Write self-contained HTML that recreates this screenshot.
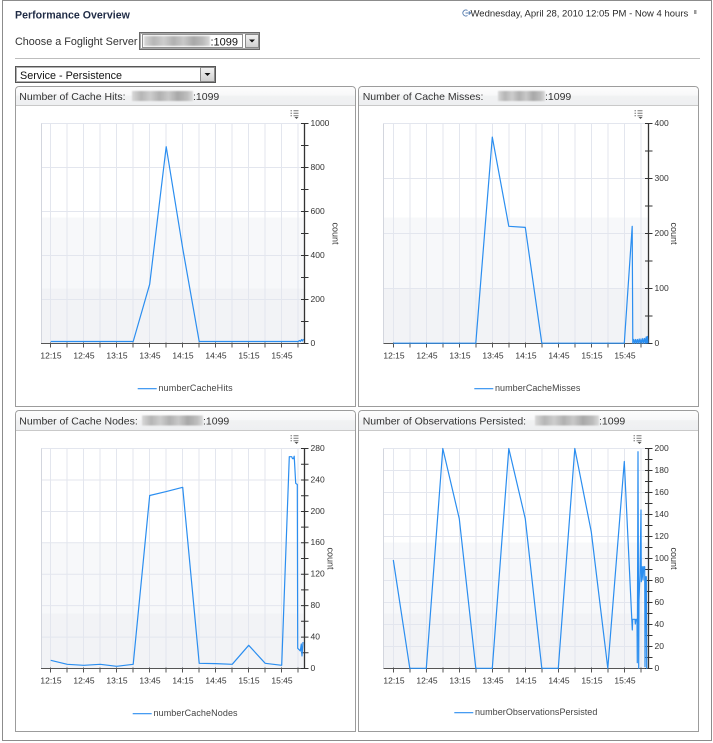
<!DOCTYPE html>
<html><head><meta charset="utf-8"><style>
html,body{margin:0;padding:0;background:#fff;}
#root{position:relative;width:713px;height:743px;overflow:hidden;background:#fff;font-family:"Liberation Sans",Arial,sans-serif;}
svg{position:absolute;left:0;top:0;}
</style></head><body><div id="root">
<svg width="713" height="743" viewBox="0 0 713 743" xmlns="http://www.w3.org/2000/svg" font-family="Liberation Sans, Arial, sans-serif">
<defs>
<linearGradient id="hdr" x1="0" y1="0" x2="0" y2="1">
<stop offset="0" stop-color="#fdfdfd"/><stop offset="0.45" stop-color="#f8f8f9"/><stop offset="0.5" stop-color="#f1f2f3"/><stop offset="1" stop-color="#eeeff1"/>
</linearGradient>
<linearGradient id="btn" x1="0" y1="0" x2="0" y2="1">
<stop offset="0" stop-color="#f2f2f2"/><stop offset="1" stop-color="#cfcfcf"/>
</linearGradient>
<linearGradient id="blur" x1="0" y1="0" x2="1" y2="0">
<stop offset="0" stop-color="#d8d8d8"/><stop offset="0.15" stop-color="#b5b5b5"/><stop offset="0.3" stop-color="#cdcdcd"/><stop offset="0.45" stop-color="#b0b0b0"/><stop offset="0.6" stop-color="#c8c8c8"/><stop offset="0.75" stop-color="#a8a8a8"/><stop offset="0.9" stop-color="#bcbcbc"/><stop offset="1" stop-color="#dadada"/>
</linearGradient>
<filter id="bf" x="-10%" y="-50%" width="120%" height="200%"><feGaussianBlur stdDeviation="0.9"/></filter>
</defs>

<!-- page border -->
<rect x="2.5" y="0.5" width="709" height="740" fill="none" stroke="#8c8c8c"/>

<!-- header -->
<text x="15" y="18.5" font-size="10.6" font-weight="bold" fill="#1f2b45">Performance Overview</text>
<g stroke="#5a7fb0" fill="none" stroke-width="1">
<path d="M467.5,10.5 A3,3 0 1 0 467.5,15.5"/>
<path d="M465.5,13 H470.5 M468.8,11.3 L470.5,13 L468.8,14.7"/>
</g>
<text x="470.5" y="16.3" font-size="9.5" fill="#2a2a2a">Wednesday, April 28, 2010 12:05 PM - Now 4 hours</text>
<rect x="694" y="10" width="2.5" height="4" fill="#9a9a9a"/>

<text x="15" y="45" font-size="10.8" fill="#333">Choose a Foglight Server</text>
<!-- select 1 -->
<rect x="139.5" y="32.5" width="120" height="17" fill="#fff" stroke="#6a6a6a"/>
<rect x="140.5" y="33.5" width="118" height="15" fill="none" stroke="#a8a8a8"/>
<rect x="142.5" y="34.5" width="100" height="13" fill="none" stroke="#222" stroke-dasharray="1,1"/>
<rect x="144" y="36" width="66" height="10" fill="url(#blur)" filter="url(#bf)"/>
<text x="210.5" y="45.3" font-size="11" fill="#111">:1099</text>
<rect x="245.5" y="34.5" width="13" height="13" fill="url(#btn)" stroke="#8a8a8a"/>
<path d="M249,39.5 L255,39.5 L252,42.5 Z" fill="#111"/>

<line x1="15" y1="58.5" x2="700" y2="58.5" stroke="#bdbdbd"/>

<!-- select 2 -->
<rect x="15.5" y="66.5" width="200" height="16" fill="#fff" stroke="#555"/>
<rect x="16.5" y="67.5" width="198" height="14" fill="none" stroke="#b0b0b0"/>
<text x="20" y="79" font-size="10.8" fill="#111">Service - Persistence</text>
<rect x="200.5" y="67.5" width="14" height="14" fill="url(#btn)" stroke="#8a8a8a"/>
<path d="M204.5,73 L210.5,73 L207.5,76 Z" fill="#111"/>

<!-- panels -->
<g stroke="#9c9c9c" fill="#fff">
<path d="M15.5,406.5 V90.5 Q15.5,86.5 19.5,86.5 H351.5 Q355.5,86.5 355.5,90.5 V406.5 Z"/>
<path d="M358.5,406.5 V90.5 Q358.5,86.5 362.5,86.5 H694.5 Q698.5,86.5 698.5,90.5 V406.5 Z"/>
<path d="M15.5,731.5 V414.5 Q15.5,410.5 19.5,410.5 H351.5 Q355.5,410.5 355.5,414.5 V731.5 Z"/>
<path d="M358.5,731.5 V414.5 Q358.5,410.5 362.5,410.5 H694.5 Q698.5,410.5 698.5,414.5 V731.5 Z"/>
</g>
<g fill="url(#hdr)">
<path d="M16,105 V90.5 Q16,87 19.5,87 H351.5 Q355,87 355,90.5 V105 Z"/>
<path d="M359,105 V90.5 Q359,87 362.5,87 H694.5 Q698,87 698,90.5 V105 Z"/>
<path d="M16,430 V414.5 Q16,411 19.5,411 H351.5 Q355,411 355,414.5 V430 Z"/>
<path d="M359,430 V414.5 Q359,411 362.5,411 H694.5 Q698,411 698,414.5 V430 Z"/>
</g>
<g stroke="#c9c9c9">
<line x1="16" y1="105.5" x2="355" y2="105.5"/>
<line x1="359" y1="105.5" x2="698" y2="105.5"/>
<line x1="16" y1="430.5" x2="355" y2="430.5"/>
<line x1="359" y1="430.5" x2="698" y2="430.5"/>
</g>
<g font-size="10.5" fill="#333">
<text x="19.3" y="100">Number of Cache Hits:</text>
<text x="362.7" y="100">Number of Cache Misses:</text>
<text x="19.3" y="424.5">Number of Cache Nodes:</text>
<text x="362.7" y="424.5">Number of Observations Persisted:</text>
<text x="193" y="100">:1099</text>
<text x="545" y="100">:1099</text>
<text x="203" y="424.5">:1099</text>
<text x="599" y="424.5">:1099</text>
</g>
<g filter="url(#bf)">
<rect x="132" y="91" width="61" height="10" fill="url(#blur)"/>
<rect x="498" y="91" width="47" height="10" fill="url(#blur)"/>
<rect x="142" y="415.5" width="61" height="10" fill="url(#blur)"/>
<rect x="535" y="415.5" width="64" height="10" fill="url(#blur)"/>
</g>

<!-- ============ CHART 1 ============ -->
<g>
<rect x="41" y="123.5" width="263.5" height="94" fill="#fff"/>
<rect x="41" y="217.5" width="263.5" height="71" fill="#f7f8fa"/>
<rect x="41" y="288.5" width="263.5" height="55" fill="#f2f3f6"/>
<g stroke="#e3e6ee" stroke-width="1">
<path d="M50.5,123.5V343.5M67,123.5V343.5M83.5,123.5V343.5M100,123.5V343.5M116.5,123.5V343.5M133,123.5V343.5M149.5,123.5V343.5M166,123.5V343.5M182.5,123.5V343.5M199,123.5V343.5M215.5,123.5V343.5M232,123.5V343.5M248.5,123.5V343.5M265,123.5V343.5M281.5,123.5V343.5M298,123.5V343.5"/>
<path d="M41,123.5H304.5M41,167.5H304.5M41,211.5H304.5M41,255.5H304.5M41,299.5H304.5"/>
</g>
<line x1="41.5" y1="123.5" x2="41.5" y2="343.5" stroke="#d3d6de"/>
<line x1="41" y1="343.5" x2="304.5" y2="343.5" stroke="#555"/>
<path d="M50.5,342.5V347.5M67,342.5V347.5M83.5,342.5V347.5M100,342.5V347.5M116.5,342.5V347.5M133,342.5V347.5M149.5,342.5V347.5M166,342.5V347.5M182.5,342.5V347.5M199,342.5V347.5M215.5,342.5V347.5M232,342.5V347.5M248.5,342.5V347.5M265,342.5V347.5M281.5,342.5V347.5M298,342.5V347.5" stroke="#555"/>
<line x1="304.5" y1="123" x2="304.5" y2="344" stroke="#333" stroke-width="1.3"/>
<path d="M301,123.5H308.5M301,145.5H308.5M301,167.5H308.5M301,189.5H308.5M301,211.5H308.5M301,233.5H308.5M301,255.5H308.5M301,277.5H308.5M301,299.5H308.5M301,321.5H308.5M301,343.5H308.5" stroke="#333"/>
<g font-size="8.5" fill="#333" dominant-baseline="middle">
<text x="310.5" y="123.5">1000</text><text x="310.5" y="167.5">800</text><text x="310.5" y="211.5">600</text><text x="310.5" y="255.5">400</text><text x="310.5" y="299.5">200</text><text x="310.5" y="343.5">0</text>
</g>
<g font-size="8.5" fill="#333" text-anchor="middle">
<text x="51" y="358.5">12:15</text><text x="84" y="358.5">12:45</text><text x="117" y="358.5">13:15</text><text x="150" y="358.5">13:45</text><text x="183" y="358.5">14:15</text><text x="216" y="358.5">14:45</text><text x="249" y="358.5">15:15</text><text x="282" y="358.5">15:45</text>
</g>
<text x="335" y="233.5" font-size="9" fill="#333" text-anchor="middle" dominant-baseline="middle" transform="rotate(90 335 233.5)">count</text>
<g stroke="#777"><path d="M290.5,110.8H292M293.5,110.8H298.5M290.5,113.3H292M293.5,113.3H298.5M290.5,115.8H292M293.5,115.8H298.5"/></g>
<path d="M294.5,117 L298.5,117 L296.5,119 Z" fill="#555"/>
<polyline fill="none" stroke="#2b8ef0" stroke-width="1.2" stroke-linejoin="round" points="50.7,341.5 133.2,341.5 149.7,284.2 166.2,146.7 182.7,248.3 199.2,341.5 298.2,341.5 299.5,340.5 300.5,341.5 301.5,339.5 302.5,341 303.5,339"/>
<line x1="137.7" y1="388.7" x2="156.7" y2="388.7" stroke="#2b8ef0" stroke-width="1.2"/>
<text x="158.5" y="388.7" font-size="9" fill="#444" letter-spacing="0.15" dominant-baseline="middle">numberCacheHits</text>
</g>

<!-- ============ CHART 2 ============ -->
<g>
<rect x="383.5" y="123.5" width="265" height="94" fill="#fff"/>
<rect x="383.5" y="217.5" width="265" height="71" fill="#f7f8fa"/>
<rect x="383.5" y="288.5" width="265" height="55" fill="#f2f3f6"/>
<g stroke="#e3e6ee">
<path d="M393.5,123.5V343.5M410,123.5V343.5M426.5,123.5V343.5M443,123.5V343.5M459.5,123.5V343.5M476,123.5V343.5M492.5,123.5V343.5M509,123.5V343.5M525.5,123.5V343.5M542,123.5V343.5M558.5,123.5V343.5M575,123.5V343.5M591.5,123.5V343.5M608,123.5V343.5M624.5,123.5V343.5M641,123.5V343.5"/>
<path d="M383.5,123.5H648.5M383.5,178.5H648.5M383.5,233.5H648.5M383.5,288.5H648.5"/>
</g>
<line x1="383.5" y1="123.5" x2="383.5" y2="343.5" stroke="#d3d6de"/>
<line x1="383.5" y1="343.5" x2="648.5" y2="343.5" stroke="#555"/>
<path d="M393.5,342.5V347.5M410,342.5V347.5M426.5,342.5V347.5M443,342.5V347.5M459.5,342.5V347.5M476,342.5V347.5M492.5,342.5V347.5M509,342.5V347.5M525.5,342.5V347.5M542,342.5V347.5M558.5,342.5V347.5M575,342.5V347.5M591.5,342.5V347.5M608,342.5V347.5M624.5,342.5V347.5M641,342.5V347.5" stroke="#555"/>
<line x1="648.5" y1="123" x2="648.5" y2="344" stroke="#333" stroke-width="1.3"/>
<path d="M645,123.5H652.5M645,151H652.5M645,178.5H652.5M645,206H652.5M645,233.5H652.5M645,261H652.5M645,288.5H652.5M645,316H652.5M645,343.5H652.5" stroke="#333"/>
<g font-size="8.5" fill="#333" dominant-baseline="middle">
<text x="654.5" y="123.5">400</text><text x="654.5" y="178.5">300</text><text x="654.5" y="233.5">200</text><text x="654.5" y="288.5">100</text><text x="654.5" y="343.5">0</text>
</g>
<g font-size="8.5" fill="#333" text-anchor="middle">
<text x="394" y="358.5">12:15</text><text x="427" y="358.5">12:45</text><text x="460" y="358.5">13:15</text><text x="493" y="358.5">13:45</text><text x="526" y="358.5">14:15</text><text x="559" y="358.5">14:45</text><text x="592" y="358.5">15:15</text><text x="625" y="358.5">15:45</text>
</g>
<text x="673.5" y="233.5" font-size="9" fill="#333" text-anchor="middle" dominant-baseline="middle" transform="rotate(90 673.5 233.5)">count</text>
<g stroke="#777"><path d="M634.5,110.8H636M637.5,110.8H642.5M634.5,113.3H636M637.5,113.3H642.5M634.5,115.8H636M637.5,115.8H642.5"/></g>
<path d="M638.5,117 L642.5,117 L640.5,119 Z" fill="#555"/>
<polyline fill="none" stroke="#2b8ef0" stroke-width="1.2" stroke-linejoin="round" points="393.3,343.2 475.8,343.2 492.3,137.1 508.8,226.3 525.3,227.4 541.8,343.2 624.3,343.2 632.2,226.3 632.8,343.2 633.8,339.5 634.6,343.2 635.6,339.5 636.4,343.2 637.4,339.5 638.2,343.2 639.2,339 640,343.2 641,339 641.8,343.2 642.8,338.5 643.6,343.2 644.6,338.5 645.4,343.2 646.2,337 646.8,343.2 647.4,336.5 648,343.2"/>
<line x1="474.3" y1="388.7" x2="493.3" y2="388.7" stroke="#2b8ef0" stroke-width="1.2"/>
<text x="495" y="388.7" font-size="9" fill="#444" letter-spacing="0.05" dominant-baseline="middle">numberCacheMisses</text>
</g>

<!-- ============ CHART 3 ============ -->
<g>
<rect x="41" y="448.5" width="263.5" height="94" fill="#fff"/>
<rect x="41" y="542.5" width="263.5" height="71" fill="#f7f8fa"/>
<rect x="41" y="613.5" width="263.5" height="55" fill="#f2f3f6"/>
<g stroke="#e3e6ee">
<path d="M50.5,448.5V668.5M67,448.5V668.5M83.5,448.5V668.5M100,448.5V668.5M116.5,448.5V668.5M133,448.5V668.5M149.5,448.5V668.5M166,448.5V668.5M182.5,448.5V668.5M199,448.5V668.5M215.5,448.5V668.5M232,448.5V668.5M248.5,448.5V668.5M265,448.5V668.5M281.5,448.5V668.5M298,448.5V668.5"/>
<path d="M41,448.5H304.5M41,480H304.5M41,511.5H304.5M41,542.8H304.5M41,574.2H304.5M41,605.6H304.5M41,637.1H304.5"/>
</g>
<line x1="41.5" y1="448.5" x2="41.5" y2="668.5" stroke="#d3d6de"/>
<line x1="41" y1="668.5" x2="304.5" y2="668.5" stroke="#555"/>
<path d="M50.5,667.5V672.5M67,667.5V672.5M83.5,667.5V672.5M100,667.5V672.5M116.5,667.5V672.5M133,667.5V672.5M149.5,667.5V672.5M166,667.5V672.5M182.5,667.5V672.5M199,667.5V672.5M215.5,667.5V672.5M232,667.5V672.5M248.5,667.5V672.5M265,667.5V672.5M281.5,667.5V672.5M298,667.5V672.5" stroke="#555"/>
<line x1="304.5" y1="448" x2="304.5" y2="669" stroke="#333" stroke-width="1.3"/>
<path d="M301,448.5H308.5M301,464.2H308.5M301,480H308.5M301,495.7H308.5M301,511.5H308.5M301,527.1H308.5M301,542.8H308.5M301,558.5H308.5M301,574.2H308.5M301,589.9H308.5M301,605.6H308.5M301,621.3H308.5M301,637.1H308.5M301,652.8H308.5M301,668.5H308.5" stroke="#333"/>
<g font-size="8.5" fill="#333" dominant-baseline="middle">
<text x="310.5" y="448.5">280</text><text x="310.5" y="480">240</text><text x="310.5" y="511.5">200</text><text x="310.5" y="542.8">160</text><text x="310.5" y="574.2">120</text><text x="310.5" y="605.6">80</text><text x="310.5" y="637.1">40</text><text x="310.5" y="668.5">0</text>
</g>
<g font-size="8.5" fill="#333" text-anchor="middle">
<text x="51" y="683.5">12:15</text><text x="84" y="683.5">12:45</text><text x="117" y="683.5">13:15</text><text x="150" y="683.5">13:45</text><text x="183" y="683.5">14:15</text><text x="216" y="683.5">14:45</text><text x="249" y="683.5">15:15</text><text x="282" y="683.5">15:45</text>
</g>
<text x="330" y="558.5" font-size="9" fill="#333" text-anchor="middle" dominant-baseline="middle" transform="rotate(90 330 558.5)">count</text>
<g stroke="#777"><path d="M290.5,435.8H292M293.5,435.8H298.5M290.5,438.3H292M293.5,438.3H298.5M290.5,440.8H292M293.5,440.8H298.5"/></g>
<path d="M294.5,442 L298.5,442 L296.5,444 Z" fill="#555"/>
<polyline fill="none" stroke="#2b8ef0" stroke-width="1.2" stroke-linejoin="round" points="50.7,660.3 67.2,664.3 83.7,665.3 100.2,664.3 116.7,666.3 133.2,664.3 149.7,495.5 166.2,491.6 182.7,487.3 199.2,663.3 215.7,663.6 232.2,664.3 248.7,645.3 265.2,663.3 281.7,665.3 289.3,456.7 291.7,456.7 292.5,458.7 293.5,458.7 294.2,456.2 295.7,483.3 297.3,484.5 297.7,648.3 299,649.5 300.3,651 301.3,644 302,656 303,642"/>
<line x1="132.7" y1="713.7" x2="151.7" y2="713.7" stroke="#2b8ef0" stroke-width="1.2"/>
<text x="153.5" y="713.7" font-size="9" fill="#444" letter-spacing="0.1" dominant-baseline="middle">numberCacheNodes</text>
</g>

<!-- ============ CHART 4 ============ -->
<g>
<rect x="383.5" y="448.5" width="265" height="94" fill="#fff"/>
<rect x="383.5" y="542.5" width="265" height="71" fill="#f7f8fa"/>
<rect x="383.5" y="613.5" width="265" height="55" fill="#f2f3f6"/>
<g stroke="#e3e6ee">
<path d="M393.5,448.5V668.5M410,448.5V668.5M426.5,448.5V668.5M443,448.5V668.5M459.5,448.5V668.5M476,448.5V668.5M492.5,448.5V668.5M509,448.5V668.5M525.5,448.5V668.5M542,448.5V668.5M558.5,448.5V668.5M575,448.5V668.5M591.5,448.5V668.5M608,448.5V668.5M624.5,448.5V668.5M641,448.5V668.5"/>
<path d="M383.5,448.5H648.5M383.5,470.5H648.5M383.5,492.5H648.5M383.5,514.5H648.5M383.5,536.5H648.5M383.5,558.5H648.5M383.5,580.5H648.5M383.5,602.5H648.5M383.5,624.5H648.5M383.5,646.5H648.5"/>
</g>
<line x1="383.5" y1="448.5" x2="383.5" y2="668.5" stroke="#d3d6de"/>
<line x1="383.5" y1="668.5" x2="648.5" y2="668.5" stroke="#555"/>
<path d="M393.5,667.5V672.5M410,667.5V672.5M426.5,667.5V672.5M443,667.5V672.5M459.5,667.5V672.5M476,667.5V672.5M492.5,667.5V672.5M509,667.5V672.5M525.5,667.5V672.5M542,667.5V672.5M558.5,667.5V672.5M575,667.5V672.5M591.5,667.5V672.5M608,667.5V672.5M624.5,667.5V672.5M641,667.5V672.5" stroke="#555"/>
<line x1="648.5" y1="448" x2="648.5" y2="669" stroke="#333" stroke-width="1.3"/>
<path d="M645,448.5H652.5M645,459.5H652.5M645,470.5H652.5M645,481.5H652.5M645,492.5H652.5M645,503.5H652.5M645,514.5H652.5M645,525.5H652.5M645,536.5H652.5M645,547.5H652.5M645,558.5H652.5M645,569.5H652.5M645,580.5H652.5M645,591.5H652.5M645,602.5H652.5M645,613.5H652.5M645,624.5H652.5M645,635.5H652.5M645,646.5H652.5M645,657.5H652.5M645,668.5H652.5" stroke="#333"/>
<g font-size="8.5" fill="#333" dominant-baseline="middle">
<text x="654.5" y="448.5">200</text><text x="654.5" y="470.5">180</text><text x="654.5" y="492.5">160</text><text x="654.5" y="514.5">140</text><text x="654.5" y="536.5">120</text><text x="654.5" y="558.5">100</text><text x="654.5" y="580.5">80</text><text x="654.5" y="602.5">60</text><text x="654.5" y="624.5">40</text><text x="654.5" y="646.5">20</text><text x="654.5" y="668.5">0</text>
</g>
<g font-size="8.5" fill="#333" text-anchor="middle">
<text x="394" y="683.5">12:15</text><text x="427" y="683.5">12:45</text><text x="460" y="683.5">13:15</text><text x="493" y="683.5">13:45</text><text x="526" y="683.5">14:15</text><text x="559" y="683.5">14:45</text><text x="592" y="683.5">15:15</text><text x="625" y="683.5">15:45</text>
</g>
<text x="673.5" y="558.5" font-size="9" fill="#333" text-anchor="middle" dominant-baseline="middle" transform="rotate(90 673.5 558.5)">count</text>
<g stroke="#777"><path d="M633.5,435.8H635M636.5,435.8H641.5M633.5,438.3H635M636.5,438.3H641.5M633.5,440.8H635M636.5,440.8H641.5"/></g>
<path d="M637.5,442 L641.5,442 L639.5,444 Z" fill="#555"/>
<polyline fill="none" stroke="#2b8ef0" stroke-width="1.2" stroke-linejoin="round" points="393.3,560 409.8,668.3 426.3,668.3 442.8,448.5 459.3,518.8 475.8,668.3 492.3,668.3 508.8,448.5 525.3,518.8 541.8,668.3 558.3,668.3 574.8,448.5 591.3,532 607.8,668.3 624.3,461.5 632.3,630 632.7,619.3 635,619.3 635.3,624 636,619.3 637,619.3 637.3,662.7 638,451.7 638.7,668.3 639,600 640,573.3 641,510 641.3,581.7 642.3,566.7 643,580 643.7,566.7 644.7,566.7 645,666.7 645.7,576.7 646.3,576.7 646.7,668.3 647.3,668.3"/>
<line x1="454.3" y1="712.7" x2="473.3" y2="712.7" stroke="#2b8ef0" stroke-width="1.2"/>
<text x="475" y="712.7" font-size="9" fill="#444" letter-spacing="0.05" dominant-baseline="middle">numberObservationsPersisted</text>
</g>
</svg>
</div></body></html>
